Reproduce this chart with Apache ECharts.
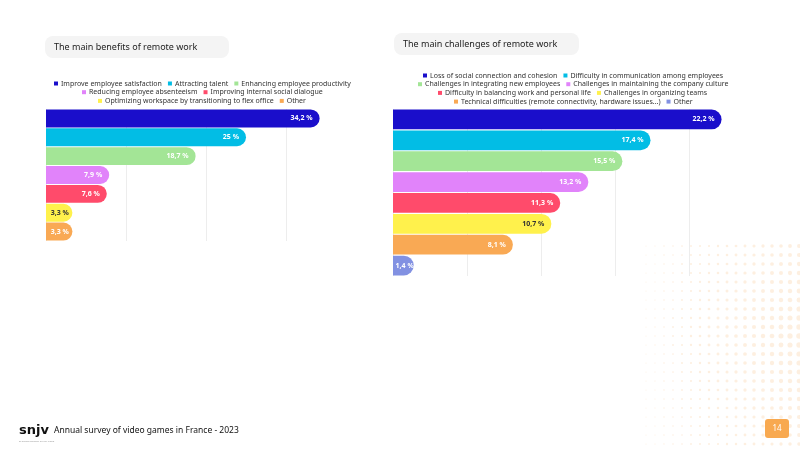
<!DOCTYPE html>
<html>
<head>
<meta charset="utf-8">
<script src="https://cdn.jsdelivr.net/npm/echarts@6/dist/echarts.min.js"></script>
<style>
  html, body { margin: 0; padding: 0; background: #fff; }
  #box { width: 800px; height: 450px; }
</style>
</head>
<body>
<div id="box"></div>
<script>
// benefits (left chart)
var benefitNames = [
  "Improve employee satisfaction",
  "Attracting talent",
  "Enhancing employee productivity",
  "Reducing employee absenteeism",
  "Improving internal social dialogue",
  "Optimizing workspace by transitioning to flex office",
  "Other"
];
var benefitValues = [34.2, 25, 18.7, 7.9, 7.6, 3.3, 3.3];
var benefitRows = [[0, 1, 2], [3, 4], [5, 6]];

// challenges (right chart)
var challengeNames = [
  "Loss of social connection and cohesion",
  "Difficulty in communication among employees",
  "Challenges in integrating new employees",
  "Challenges in maintaining the company culture",
  "Difficulty in balancing work and personal life",
  "Challenges in organizing teams",
  "Technical difficulties (remote connectivity, hardware issues...)",
  "Other "
];
var challengeValues = [22.2, 17.4, 15.5, 13.2, 11.3, 10.7, 8.1, 1.4];
var challengeRows = [[0, 1], [2, 3], [4, 5], [6, 7]];

var colors = ["#1a0ecb", "#02bde5", "#a3e596", "#e183fa", "#ff4b6b", "#fff14c", "#f9a954", "#8291e2"];
var FONT = "Noto Sans";

var myChart = echarts.init(document.getElementById("box"));

// measure legend rows so that each row can be centred on its chart
var ctx = document.createElement("canvas").getContext("2d");
ctx.font = "7px '" + FONT + "'";
function rowWidth(names, idx) {
  var w = 0;
  idx.forEach(function (i, k) {
    w += 4 + 3 + ctx.measureText(names[i].trim()).width;
    if (k > 0) w += 6;
  });
  return w;
}

function fmt(p) {
  return String(p.value).replace(".", ",") + " %";
}

// short bars keep their label closer to the rounded end
function labelGap(v) {
  if (v < 2) return 0;
  if (v < 5) return 3.5;
  return 7;
}

function makeSeries(names, values, axis, radius) {
  return names.map(function (name, i) {
    return {
      type: "bar",
      name: name,
      xAxisIndex: axis,
      yAxisIndex: axis,
      barGap: "-100%",
      barCategoryGap: "5%",
      data: values.map(function (v, j) {
        return j === i ? { value: v, label: { distance: labelGap(v) } } : "-";
      }),
      itemStyle: { color: colors[i], borderRadius: [0, radius, radius, 0] },
      label: {
        show: true,
        position: "insideRight",
        distance: 7,
        formatter: fmt,
        color: i === 5 ? "#333" : "#fff",
        fontFamily: FONT,
        fontWeight: "bold",
        fontSize: 7
      },
      emphasis: { disabled: true }
    };
  });
}

function makeLegends(names, rows, centerX, top0, step) {
  return rows.map(function (idx, r) {
    return {
      data: idx.map(function (i) { return { name: names[i], itemStyle: { color: colors[i] } }; }),
      left: Math.round(centerX - rowWidth(names, idx) / 2),
      top: top0 + r * step,
      orient: "horizontal",
      itemWidth: 4,
      itemHeight: 4,
      itemGap: 6,
      padding: 0,
      icon: "rect",
      selectedMode: false,
      formatter: function (n) { return n.trim(); },
      textStyle: { fontFamily: FONT, fontSize: 7, color: "#333", padding: [0, 0, 0, -2] }
    };
  });
}

var dots = [];
for (var dx = 646; dx <= 800; dx += 9) {
  for (var dy = 246; dy <= 450; dy += 9) {
    var fx = (dx - 646) / 154;
    var fy = 1 - Math.min(1, Math.abs(dy - 335) / 140) * 0.55;
    var r = 0.5 + 2.3 * fx * fy;
    dots.push({ type: "circle", shape: { cx: dx, cy: dy, r: r }, style: { fill: "#fcebd8", opacity: 0.8 }, z: -10, silent: true });
  }
}

var option = {
  animation: false,
  textStyle: { fontFamily: FONT },
  grid: [
    { left: 46, top: 109, width: 320, height: 132 },
    { left: 393, top: 109, width: 370, height: 167 }
  ],
  xAxis: [
    {
      gridIndex: 0, type: "value", min: 0, max: 40, interval: 10,
      axisLabel: { show: false }, axisLine: { show: false }, axisTick: { show: false },
      splitLine: { show: true, showMaxLine: false, lineStyle: { color: "#ededed", width: 1 } }
    },
    {
      gridIndex: 1, type: "value", min: 0, max: 25, interval: 5,
      axisLabel: { show: false }, axisLine: { show: false }, axisTick: { show: false },
      splitLine: { show: true, showMaxLine: false, lineStyle: { color: "#ededed", width: 1 } }
    }
  ],
  yAxis: [
    { gridIndex: 0, type: "category", data: benefitNames, inverse: true, show: false },
    { gridIndex: 1, type: "category", data: challengeNames, inverse: true, show: false }
  ],
  legend: makeLegends(benefitNames, benefitRows, 202, 80, 8.7)
    .concat(makeLegends(challengeNames, challengeRows, 573, 72, 8.7)),
  series: makeSeries(benefitNames, benefitValues, 0, 9)
    .concat(makeSeries(challengeNames, challengeValues, 1, 10)),
  graphic: dots.concat([
    { type: "rect", shape: { x: 45, y: 36, width: 184, height: 22, r: 8 }, style: { fill: "#f4f4f4" }, z: -5 },
    { type: "text", x: 54, y: 47, style: { text: "The main benefits of remote work", fontFamily: FONT, fontSize: 9, fill: "#222", verticalAlign: "middle" } },
    { type: "rect", shape: { x: 394, y: 33, width: 185, height: 22, r: 8 }, style: { fill: "#f4f4f4" }, z: -5 },
    { type: "text", x: 403, y: 44, style: { text: "The main challenges of remote work", fontFamily: FONT, fontSize: 9, fill: "#222", verticalAlign: "middle" } },
    { type: "text", x: 19, y: 431, style: { text: "snjv", fontFamily: "DejaVu Sans", fontWeight: "bold", fontSize: 13, fill: "#111", verticalAlign: "middle" } },
    { type: "text", x: 19, y: 441, style: { text: "Syndicat national du jeu vidéo", fontFamily: FONT, fontSize: 2.5, fill: "#999", verticalAlign: "middle" } },
    { type: "text", x: 54, y: 431, style: { text: "Annual survey of video games in France - 2023", fontFamily: FONT, fontSize: 8.5, fill: "#111", verticalAlign: "middle" } },
    { type: "rect", shape: { x: 765, y: 419, width: 24, height: 19, r: 3 }, style: { fill: "#f8a950" } },
    { type: "text", x: 777, y: 428.5, style: { text: "14", fontFamily: FONT, fontSize: 8, fill: "#fff", align: "center", verticalAlign: "middle" } }
  ])
};
myChart.setOption(option);
</script>
</body>
</html>
